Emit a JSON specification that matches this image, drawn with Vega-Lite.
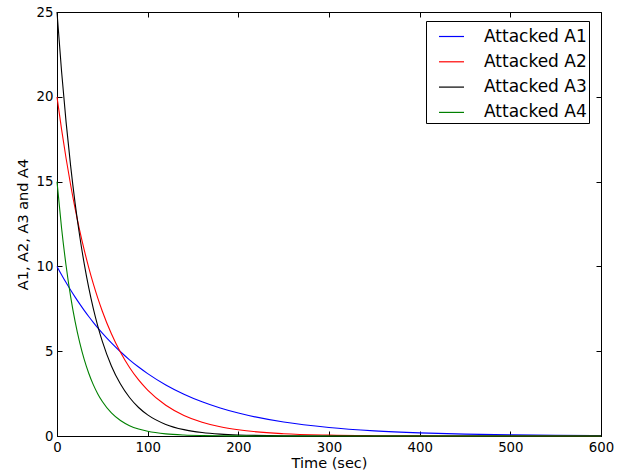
{
  "$schema": "https://vega.github.io/schema/vega-lite/v6.json",
  "width": 544,
  "height": 424,
  "autosize": "none",
  "padding": {"left": 57, "top": 12, "right": 27, "bottom": 38},
  "background": "white",
  "config": {
    "font": "DejaVu Sans",
    "view": {"stroke": "black", "strokeWidth": 1},
    "axis": {
      "grid": false,
      "domainColor": "black",
      "tickColor": "black",
      "labelColor": "black",
      "titleColor": "black",
      "labelFontSize": 13.3,
      "titleFontSize": 14.5,
      "titleFontWeight": "normal",
      "tickSize": -5,
      "labelPadding": 9,
      "labelFlush": false,
      "labelOverlap": false
    }
  },
  "data": {
    "values": [
      {"t": 0, "A1": 10, "A2": 20, "A3": 25, "A4": 15},
      {"t": 5, "A1": 9.512, "A2": 18.097, "A3": 21.518, "A4": 12.281},
      {"t": 10, "A1": 9.048, "A2": 16.375, "A3": 18.52, "A4": 10.055},
      {"t": 15, "A1": 8.607, "A2": 14.816, "A3": 15.941, "A4": 8.232},
      {"t": 20, "A1": 8.187, "A2": 13.406, "A3": 13.72, "A4": 6.74},
      {"t": 25, "A1": 7.788, "A2": 12.131, "A3": 11.809, "A4": 5.518},
      {"t": 30, "A1": 7.408, "A2": 10.976, "A3": 10.164, "A4": 4.518},
      {"t": 35, "A1": 7.047, "A2": 9.932, "A3": 8.748, "A4": 3.699},
      {"t": 40, "A1": 6.703, "A2": 8.987, "A3": 7.53, "A4": 3.028},
      {"t": 45, "A1": 6.376, "A2": 8.131, "A3": 6.481, "A4": 2.479},
      {"t": 50, "A1": 6.065, "A2": 7.358, "A3": 5.578, "A4": 2.03},
      {"t": 60, "A1": 5.488, "A2": 6.024, "A3": 4.132, "A4": 1.361},
      {"t": 70, "A1": 4.966, "A2": 4.932, "A3": 3.061, "A4": 0.912},
      {"t": 80, "A1": 4.493, "A2": 4.038, "A3": 2.268, "A4": 0.611},
      {"t": 90, "A1": 4.066, "A2": 3.306, "A3": 1.68, "A4": 0.41},
      {"t": 100, "A1": 3.679, "A2": 2.707, "A3": 1.245, "A4": 0.275},
      {"t": 120, "A1": 3.012, "A2": 1.814, "A3": 0.683, "A4": 0.123},
      {"t": 140, "A1": 2.466, "A2": 1.216, "A3": 0.375, "A4": 0.055},
      {"t": 160, "A1": 2.019, "A2": 0.815, "A3": 0.206, "A4": 0.025},
      {"t": 180, "A1": 1.653, "A2": 0.546, "A3": 0.113, "A4": 0.011},
      {"t": 200, "A1": 1.353, "A2": 0.366, "A3": 0.062, "A4": 0.005},
      {"t": 250, "A1": 0.821, "A2": 0.135, "A3": 0.014, "A4": 0.001},
      {"t": 300, "A1": 0.498, "A2": 0.05, "A3": 0.003, "A4": 0},
      {"t": 350, "A1": 0.302, "A2": 0.018, "A3": 0.001, "A4": 0},
      {"t": 400, "A1": 0.183, "A2": 0.007, "A3": 0, "A4": 0},
      {"t": 450, "A1": 0.111, "A2": 0.002, "A3": 0, "A4": 0},
      {"t": 500, "A1": 0.067, "A2": 0.001, "A3": 0, "A4": 0},
      {"t": 550, "A1": 0.041, "A2": 0, "A3": 0, "A4": 0},
      {"t": 600, "A1": 0.025, "A2": 0, "A3": 0, "A4": 0}
    ]
  },
  "transform": [{"fold": ["A1", "A2", "A3", "A4"], "as": ["series", "value"]}],
  "layer": [
    {
      "mark": {"type": "line", "strokeWidth": 1.1, "interpolate": "monotone"},
      "encoding": {
        "x": {
          "field": "t", "type": "quantitative",
          "scale": {"domain": [0, 600], "nice": false},
          "axis": {"values": [0, 100, 200, 300, 400, 500, 600], "title": "Time (sec)", "titlePadding": 3}
        },
        "y": {
          "field": "value", "type": "quantitative",
          "scale": {"domain": [0, 25], "nice": false},
          "axis": {"values": [0, 5, 10, 15, 20, 25], "title": "A1, A2, A3 and A4", "titlePadding": 6}
        },
        "color": {
          "field": "series", "type": "nominal",
          "scale": {"domain": ["A1", "A2", "A3", "A4"], "range": ["#0000ff", "#ff0000", "#000000", "#008000"]},
          "legend": {
            "title": null,
            "orient": "none",
            "legendX": 369,
            "legendY": 9,
            "labelExpr": "'Attacked ' + datum.label + ' '",
            "labelFontSize": 17,
            "labelColor": "black",
            "symbolType": "stroke",
            "symbolSize": 625,
            "symbolStrokeWidth": 1.2,
            "symbolOffset": 10,
            "labelOffset": 19,
            "padding": 2,
            "rowPadding": 3.3,
            "strokeColor": "black",
            "fillColor": "white",
            "cornerRadius": 0
          }
        }
      }
    },
    {
      "mark": {"type": "line", "opacity": 0},
      "encoding": {
        "x": {
          "field": "t", "type": "quantitative",
          "axis": {"orient": "top", "values": [0, 100, 200, 300, 400, 500, 600], "labels": false, "title": null, "domain": false}
        },
        "y": {
          "field": "value", "type": "quantitative",
          "axis": {"orient": "right", "values": [0, 5, 10, 15, 20, 25], "labels": false, "title": null, "domain": false}
        },
        "detail": {"field": "series"}
      }
    }
  ],
  "resolve": {"axis": {"x": "independent", "y": "independent"}}
}
